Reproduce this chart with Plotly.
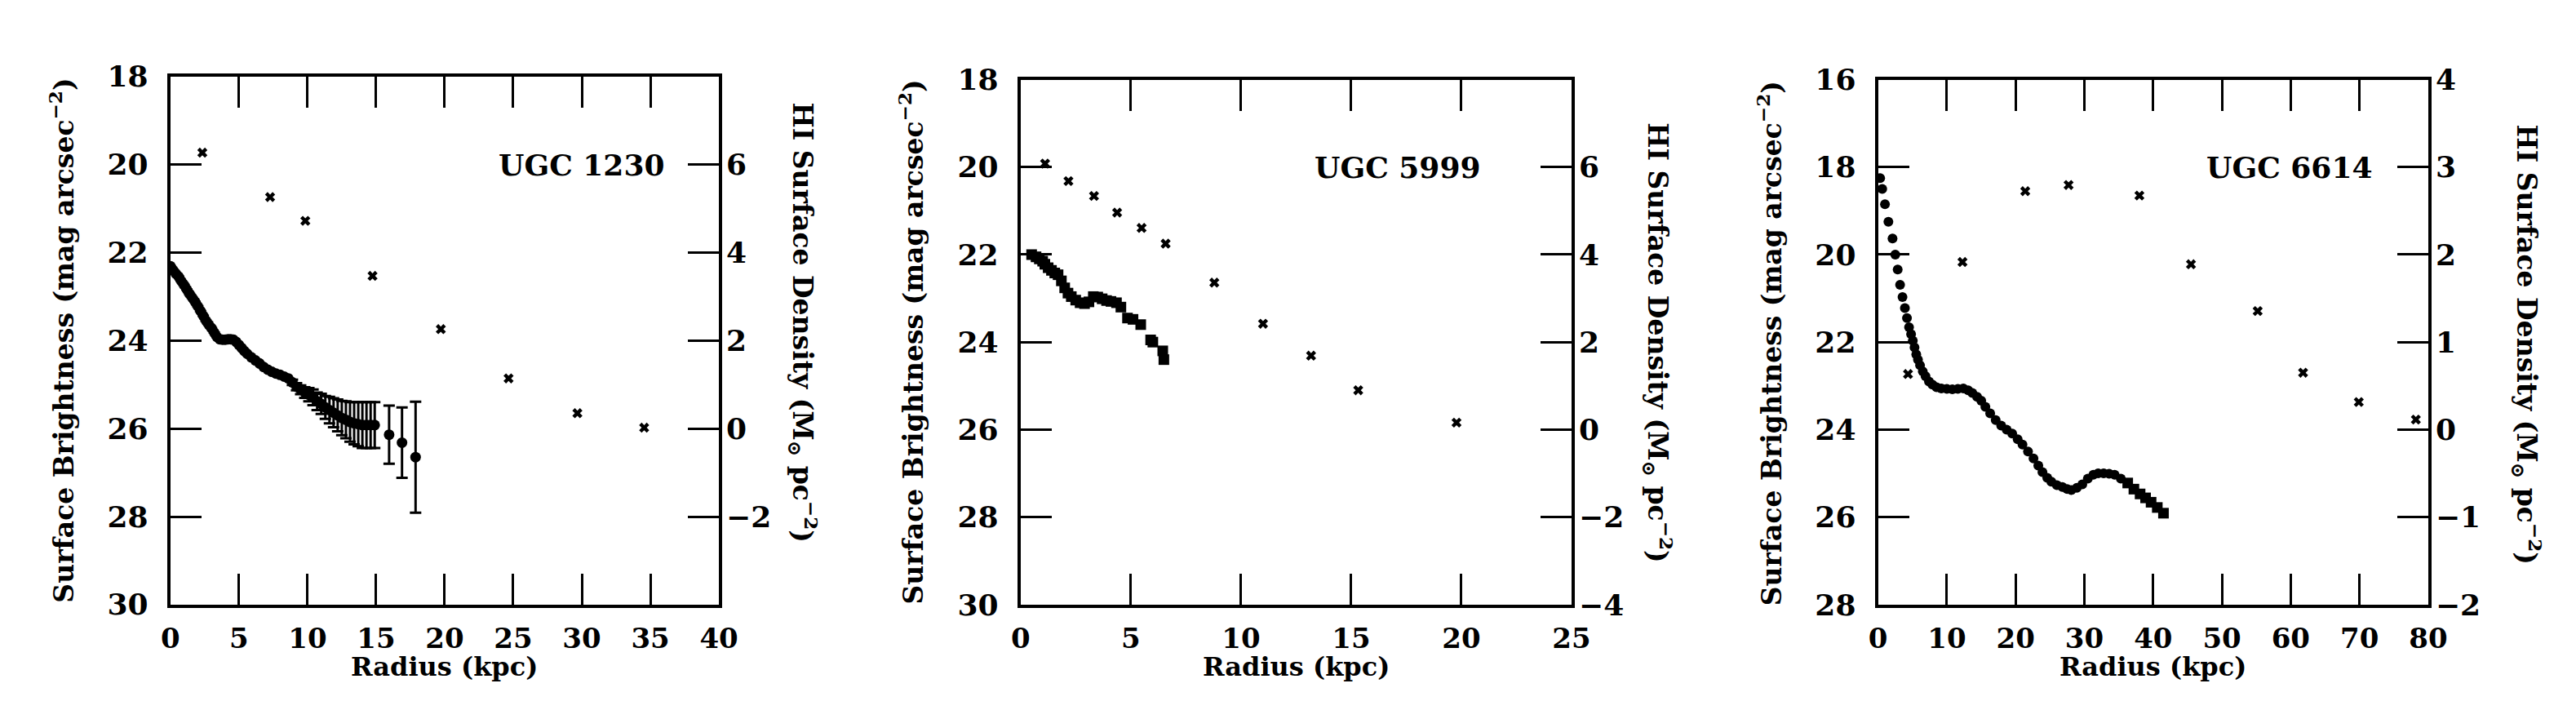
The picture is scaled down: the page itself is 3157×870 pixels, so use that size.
import plotly.graph_objects as go

FONT = "DejaVu Serif"
W, H = 3157, 870

# ---------------- UGC 1230 ----------------
p1_sb_r = [0.0, 0.2, 0.4, 0.6, 0.8, 1.0, 1.2, 1.4, 1.6, 1.8, 2.0, 2.2, 2.4, 2.6, 2.8, 3.0,
           3.2, 3.4, 3.6, 3.8, 4.0, 4.2, 4.4, 4.6, 4.8, 5.0, 5.2, 5.4, 5.6, 5.9, 6.2, 6.5,
           6.8, 7.1, 7.4, 7.7, 8.0, 8.3, 8.6, 8.9, 9.2, 9.5, 9.8, 10.1, 10.4, 10.7, 11.0,
           11.3, 11.6, 11.9, 12.2, 12.5, 12.8, 13.1, 13.4, 13.7, 14.0, 14.3, 14.6, 14.9]
p1_sb_mu = [22.31, 22.40, 22.48, 22.55, 22.65, 22.74, 22.84, 22.94, 23.03, 23.12, 23.22,
            23.33, 23.44, 23.55, 23.64, 23.72, 23.82, 23.92, 23.97, 23.98, 23.98, 23.97,
            23.97, 23.98, 24.03, 24.10, 24.17, 24.24, 24.30, 24.38, 24.45, 24.52, 24.60,
            24.66, 24.71, 24.75, 24.78, 24.82, 24.86, 24.95, 25.05, 25.12, 25.18, 25.23,
            25.29, 25.38, 25.44, 25.52, 25.58, 25.64, 25.70, 25.76, 25.80, 25.85, 25.88,
            25.90, 25.92, 25.92, 25.92, 25.92]
p1_sb_err = [0] * 39 + [0.06, 0.08, 0.10, 0.12, 0.15, 0.18, 0.20, 0.23, 0.26, 0.30, 0.33,
                        0.36, 0.39, 0.42, 0.45, 0.48, 0.50, 0.52, 0.52, 0.52, 0.52]
p1_out_r = [15.95, 16.89, 17.88]
p1_out_mu = [26.14, 26.32, 26.65]
p1_out_err = [0.66, 0.80, 1.26]
p1_hi_r = [2.33, 7.27, 9.84, 14.74, 19.72, 24.66, 29.68, 34.55]
p1_hi_sigma = [6.27, 5.26, 4.72, 3.47, 2.26, 1.14, 0.35, 0.02]

# ---------------- UGC 5999 ----------------
p2_sb_r = [0.5, 0.7, 0.85, 1.0, 1.1, 1.25, 1.4, 1.55, 1.7, 1.85, 2.0, 2.15, 2.3, 2.5, 2.7,
           2.9, 3.1, 3.3, 3.5, 3.7, 3.9, 4.1, 4.35, 4.55, 4.85, 5.1, 5.45, 5.9, 6.0, 6.45, 6.5]
p2_sb_mu = [22.00, 22.05, 22.10, 22.15, 22.22, 22.30, 22.36, 22.42, 22.46, 22.60, 22.76,
            22.88, 22.96, 23.04, 23.10, 23.12, 23.08, 22.96, 22.97, 23.01, 23.05, 23.07,
            23.10, 23.20, 23.45, 23.48, 23.60, 23.95, 24.00, 24.20, 24.40]
p2_hi_r = [1.11, 2.17, 3.33, 4.38, 5.49, 6.58, 8.79, 11.0, 13.18, 15.32, 19.78]
p2_hi_sigma = [6.08, 5.68, 5.34, 4.96, 4.61, 4.25, 3.36, 2.42, 1.69, 0.90, 0.16]

# ---------------- UGC 6614 ----------------
p3_sb_r = [0.3, 0.6, 1.0, 1.5, 2.1, 2.5, 2.85, 3.2, 3.55, 3.9, 4.2, 4.5, 4.8, 5.05, 5.3,
           5.55, 5.8, 6.1, 6.5, 6.9, 7.4, 7.9, 8.5, 9.2, 10.0, 10.8, 11.6, 12.4, 13.1, 13.7,
           14.4, 15.0, 15.6, 16.3, 17.1, 17.9, 18.7, 19.5, 20.3, 21.0, 21.8, 22.6, 23.3,
           23.9, 24.6, 25.2, 26.0, 26.8, 27.5, 28.1, 28.9, 29.7, 30.5, 31.3, 32.0, 32.8,
           33.6, 34.4, 35.3]
p3_sb_mu = [18.25, 18.50, 18.85, 19.25, 19.63, 20.00, 20.34, 20.69, 20.97, 21.22, 21.45,
            21.66, 21.82, 21.97, 22.12, 22.28, 22.40, 22.53, 22.67, 22.78, 22.90, 22.97,
            23.03, 23.06, 23.07, 23.08, 23.07, 23.06, 23.10, 23.16, 23.25, 23.34, 23.48,
            23.63, 23.78, 23.91, 24.00, 24.09, 24.22, 24.34, 24.50, 24.66, 24.82, 24.97,
            25.10, 25.19, 25.27, 25.31, 25.36, 25.38, 25.33, 25.25, 25.12, 25.03, 25.00,
            25.00, 25.01, 25.03, 25.12]
p3_sq_r = [36.3, 37.2, 38.1, 38.9, 39.7, 40.6, 41.5]
p3_sq_mu = [25.22, 25.36, 25.47, 25.56, 25.66, 25.78, 25.91]
p3_hi_r = [4.35, 12.27, 21.4, 27.7, 38.0, 45.5, 55.2, 61.8, 69.9, 78.2]
p3_hi_sigma = [0.635, 1.915, 2.725, 2.795, 2.675, 1.89, 1.355, 0.65, 0.315, 0.115]

# tick / range definitions
names = ["UGC 1230", "UGC 5999", "UGC 6614"]
x_ranges = [[0, 40], [0, 25], [0, 80]]
x_ticks = [list(range(0, 41, 5)), list(range(0, 26, 5)), list(range(0, 81, 10))]
yl_ranges = [[30, 18], [30, 18], [28, 16]]
yl_ticks = [list(range(18, 31, 2)), list(range(18, 31, 2)), list(range(16, 29, 2))]
yr_ranges = [[-4, 8], [-4, 8], [-2, 4]]
yr_ticks = [[6, 4, 2, 0, -2], [6, 4, 2, 0, -2, -4], [4, 3, 2, 1, 0, -1, -2]]
label_pos = [(36.2, 20.0), (20.95, 20.0), (72.2, 18.0)]

# layout geometry (pixels)
frames = [(191, 871, 68, 748), (1245, 1928, 72, 748), (2308, 2990, 72, 748)]
left_title_x = [57, 1110, 2174]
left_title_y = [408, 410, 412]
right_title_x = [975, 2035, 3112]
right_title_y = [385, 411, 413]
xtitle_y = 828

fig = go.Figure()

black = "black"
yfnt = dict(family=FONT, size=36, color=black, weight="bold")
xfnt = dict(family=FONT, size=34, color=black, weight="bold")


def add_sb(i, r, mu, symbol, size, err=None):
    xa = "x" if i == 0 else f"x{i+1}"
    ya = "y" if i == 0 else f"y{i+1}"
    kw = {}
    if err is not None:
        kw["error_y"] = dict(type="data", array=err, visible=True, color=black,
                             thickness=3, width=7)
    fig.add_trace(go.Scatter(x=r, y=mu, mode="markers", xaxis=xa, yaxis=ya,
                             marker=dict(symbol=symbol, size=size, color=black,
                                         line=dict(width=0)),
                             showlegend=False, **kw))


def add_hi(i, r, s):
    xa = "x" if i == 0 else f"x{i+1}"
    ya = f"y{i+4}"
    fig.add_trace(go.Scatter(x=r, y=s, mode="markers", xaxis=xa, yaxis=ya,
                             marker=dict(symbol="x", size=11, color=black,
                                         line=dict(width=0)),
                             showlegend=False))


add_sb(0, p1_sb_r, p1_sb_mu, "circle", 13, p1_sb_err)
add_sb(0, p1_out_r, p1_out_mu, "circle", 13, p1_out_err)
add_hi(0, p1_hi_r, p1_hi_sigma)
add_sb(1, p2_sb_r, p2_sb_mu, "square", 13)
add_hi(1, p2_hi_r, p2_hi_sigma)
add_sb(2, p3_sb_r, p3_sb_mu, "circle", 12)
add_sb(2, p3_sq_r, p3_sq_mu, "square", 13)
add_hi(2, p3_hi_r, p3_hi_sigma)

layout = dict(width=W, height=H, margin=dict(l=0, r=0, t=0, b=0),
              paper_bgcolor="white", plot_bgcolor="white", showlegend=False,
              font=dict(family=FONT, color=black))
annotations = []

for i in range(3):
    xl, xr, yt, yb = frames[i]
    xdom = [xl / W, xr / W]
    ydom = [1 - yb / H, 1 - yt / H]
    sfx = "" if i == 0 else str(i + 1)
    layout[f"xaxis{sfx}"] = dict(
        domain=xdom, range=x_ranges[i], tickmode="array", tickvals=x_ticks[i],
        ticks="inside", ticklen=38, tickwidth=3, tickcolor=black,
        showline=True, linewidth=4, linecolor=black, mirror="ticks",
        showgrid=False, zeroline=False, tickfont=xfnt, ticklabelstandoff=8,
        anchor=f"y{sfx}")
    layout[f"yaxis{sfx}"] = dict(
        domain=ydom, range=yl_ranges[i], tickmode="array", tickvals=yl_ticks[i],
        ticks="inside", ticklen=38, tickwidth=3, tickcolor=black,
        showline=True, linewidth=4, linecolor=black, mirror="ticks",
        showgrid=False, zeroline=False, tickfont=yfnt, ticklabelstandoff=16,
        anchor=f"x{sfx}")
    layout[f"yaxis{i+4}"] = dict(
        range=yr_ranges[i], tickmode="array", tickvals=yr_ticks[i],
        overlaying=f"y{sfx}", side="right", anchor=f"x{sfx}",
        ticks="", showline=False, showgrid=False, zeroline=False,
        tickfont=yfnt, ticklabelstandoff=8)

    # left title
    annotations.append(dict(
        x=left_title_x[i] / W, y=1 - left_title_y[i] / H, xref="paper", yref="paper",
        text="Surface Brightness (mag arcsec<sup>\u22122</sup>)", textangle=-90,
        showarrow=False, xanchor="center", yanchor="middle",
        font=dict(family=FONT, size=33, color=black, weight="bold")))
    # right title
    annotations.append(dict(
        x=right_title_x[i] / W, y=1 - right_title_y[i] / H, xref="paper", yref="paper",
        text="HI Surface Density (M<sub>\u2299</sub> pc<sup>\u22122</sup>)", textangle=90,
        showarrow=False, xanchor="center", yanchor="middle",
        font=dict(family=FONT, size=33, color=black, weight="bold")))
    # x title
    annotations.append(dict(
        x=(xl + xr) / 2 / W, y=1 - xtitle_y / H, xref="paper", yref="paper",
        text="Radius (kpc)", showarrow=False, xanchor="center", yanchor="middle",
        font=dict(family=FONT, size=32, color=black, weight="bold")))
    # galaxy label
    annotations.append(dict(
        x=label_pos[i][0], y=label_pos[i][1], xref=f"x{sfx}", yref=f"y{sfx}",
        text=names[i], showarrow=False, xanchor="right", yanchor="middle",
        font=dict(family=FONT, size=36, color=black, weight="bold")))

layout["annotations"] = annotations
fig.update_layout(**layout)
fig.write_html("out.html")
